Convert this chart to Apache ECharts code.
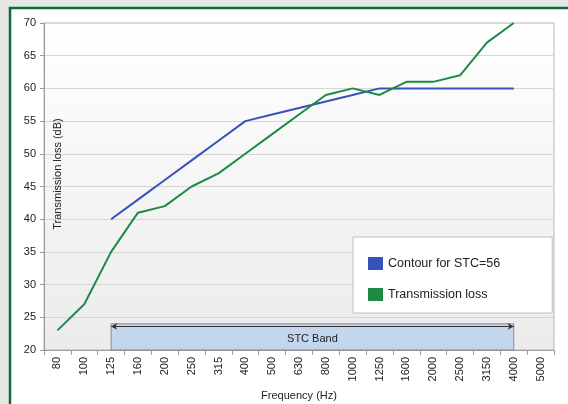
<!DOCTYPE html>
<html>
<head>
<meta charset="utf-8">
<script src="https://cdn.jsdelivr.net/npm/echarts@6/dist/echarts.min.js"></script>
<style>
  html, body { margin: 0; padding: 0; background: #e6e6e6; }
  #chart { width: 568px; height: 404px; }
</style>
</head>
<body>
<div id="chart"></div>
<script>
const frequencies = ['80', '100', '125', '160', '200', '250', '315', '400', '500', '630',
  '800', '1000', '1250', '1600', '2000', '2500', '3150', '4000', '5000']
const contourValues = [null, null, 40, 43, 46, 49, 52, 55, 56, 57, 58, 59, 60, 60, 60, 60, 60, 60, null]
const transmissionValues = [23, 27, 35, 41, 42, 45, 47, 50, 53, 56, 59, 60, 59, 61, 61, 62, 67, 70, null]
const bandStart = '125'
const bandEnd = '4000'
const bandTop = 24
const arrowLevel = 23.6

const chart = echarts.init(document.getElementById('chart'))

const font = 'Liberation Sans, Arial, sans-serif'

chart.setOption({
  animation: false,
  textStyle: { fontFamily: font },
  graphic: [
    {
      type: 'rect',
      z: -10,
      shape: { x: 10, y: 8, width: 600, height: 420 },
      style: { fill: '#ffffff', stroke: '#0d6b36', lineWidth: 2.5 },
      silent: true,
    },
    {
      type: 'text',
      x: 58,
      y: 174,
      rotation: Math.PI / 2,
      z: 10,
      silent: true,
      style: {
        text: 'Transmission loss (dB)',
        fill: '#222',
        font: '11px ' + font,
        align: 'center',
        verticalAlign: 'middle',
      },
    },
  ],
  grid: {
    left: 44,
    right: 14,
    top: 23,
    bottom: 54,
    outerBoundsMode: 'none',
    show: true,
    borderColor: '#b8b8b8',
    borderWidth: 1,
    backgroundColor: {
      type: 'linear', x: 0, y: 0, x2: 0, y2: 1,
      colorStops: [
        { offset: 0, color: '#ffffff' },
        { offset: 1, color: '#ebebeb' },
      ],
    },
  },
  legend: {
    orient: 'vertical',
    left: 353,
    top: 237,
    padding: [20, 52, 12, 15],
    itemGap: 18,
    itemWidth: 15,
    itemHeight: 13,
    backgroundColor: '#ffffff',
    borderColor: '#bdbdbd',
    borderWidth: 1,
    icon: 'rect',
    textStyle: { fontSize: 12.5, color: '#222', fontFamily: font },
    data: ['Contour for STC=56', 'Transmission loss'],
  },
  xAxis: {
    type: 'category',
    data: frequencies,
    boundaryGap: true,
    name: 'Frequency (Hz)',
    nameLocation: 'middle',
    nameGap: 40,
    nameTextStyle: { fontSize: 11, color: '#222' },
    axisLine: { lineStyle: { color: '#9a9a9a' } },
    axisTick: { show: true, lineStyle: { color: '#9a9a9a' } },
    axisLabel: { rotate: 90, fontSize: 11, color: '#222', margin: 7 },
  },
  yAxis: {
    type: 'value',
    min: 20,
    max: 70,
    interval: 5,
    axisLine: { show: true, lineStyle: { color: '#9a9a9a' } },
    axisTick: { show: true, length: 4, lineStyle: { color: '#9a9a9a' } },
    axisLabel: { fontSize: 11, color: '#222', margin: 8 },
    splitLine: { lineStyle: { color: '#d6d6d6' } },
  },
  series: [
    {
      name: 'Contour for STC=56',
      type: 'line',
      data: contourValues,
      color: '#3553b8',
      symbol: 'none',
      lineStyle: { width: 2 },
      z: 3,
    },
    {
      name: 'Transmission loss',
      type: 'line',
      data: transmissionValues,
      color: '#1e8a45',
      symbol: 'none',
      lineStyle: { width: 2 },
      z: 4,
      markArea: {
        silent: true,
        itemStyle: { color: '#c3d6ee', borderColor: '#8a8a8a', borderWidth: 1 },
        label: {
          show: true,
          position: 'inside',
          offset: [0, 2],
          color: '#222',
          fontSize: 11,
          fontFamily: font,
        },
        data: [[
          { name: 'STC Band', xAxis: bandStart, yAxis: 20 },
          { xAxis: bandEnd, yAxis: bandTop },
        ]],
      },
      markLine: {
        silent: true,
        symbol: ['arrow', 'arrow'],
        symbolSize: [5, 6],
        label: { show: false },
        lineStyle: { color: '#333', type: 'solid', width: 1 },
        data: [[
          { xAxis: bandStart, yAxis: arrowLevel },
          { xAxis: bandEnd, yAxis: arrowLevel },
        ]],
      },
    },
  ],
})
</script>
</body>
</html>
